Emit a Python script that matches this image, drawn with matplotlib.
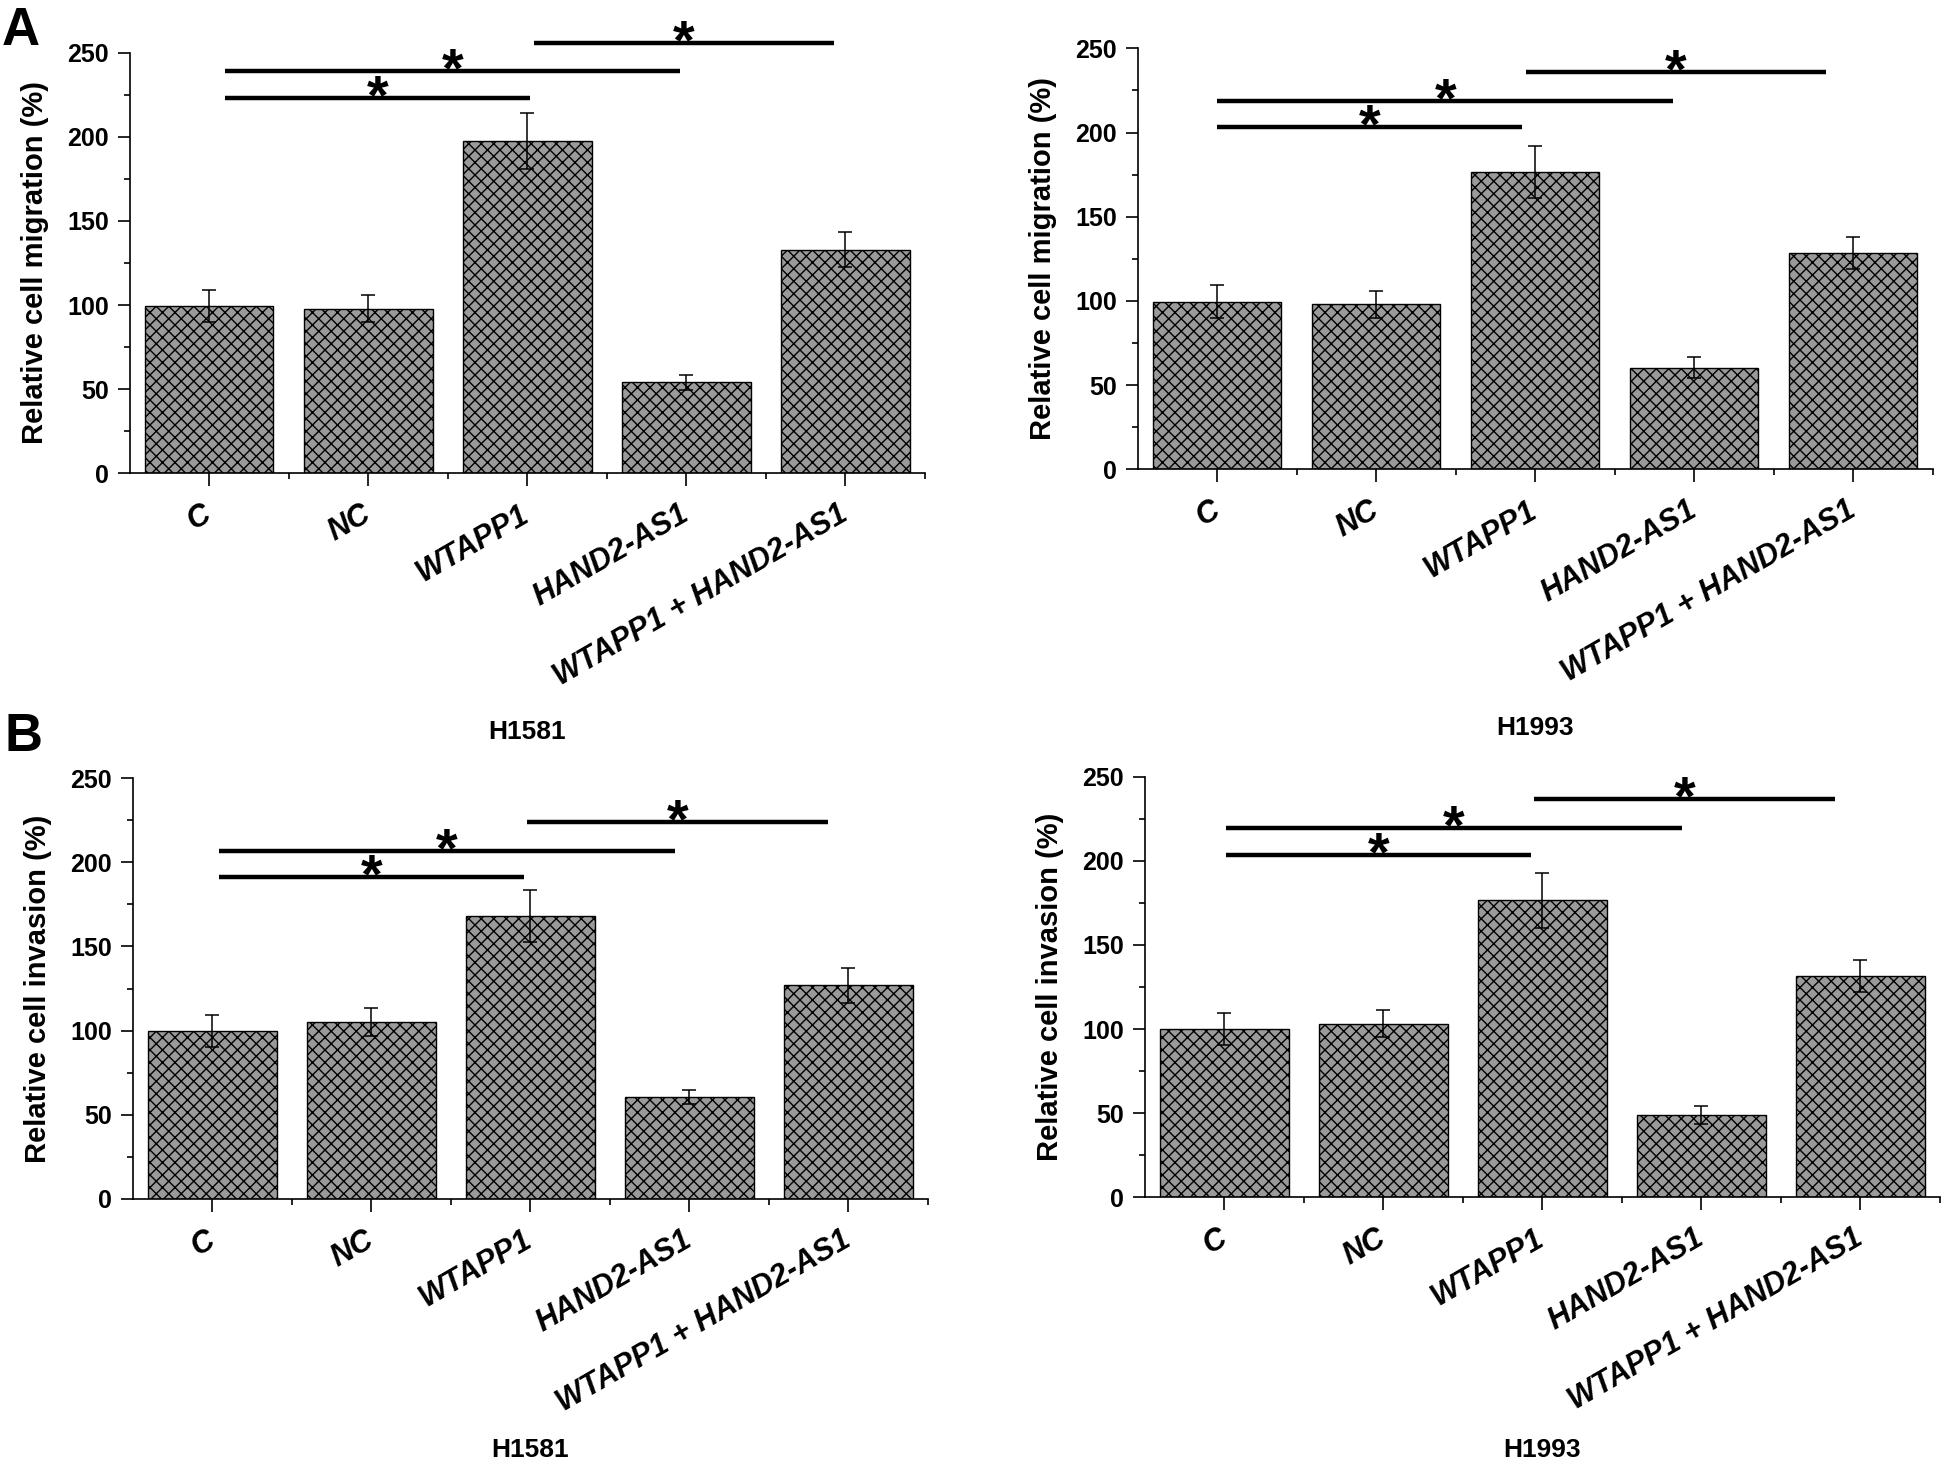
import numpy as np
import matplotlib
matplotlib.use("Agg")
import matplotlib.pyplot as plt
from matplotlib.ticker import MultipleLocator

# dpi 75 so the 'xx' hatch lands close to the reference grid pitch
DPI = 75
S = 100.0 / DPI  # sizes below were worked out for dpi 100

plt.rcParams['font.family'] = ['Liberation Sans', 'DejaVu Sans']
plt.rcParams['hatch.linewidth'] = 1.0 * S
plt.rcParams['hatch.color'] = 'black'

# data
categories = ['C', 'NC', 'WTAPP1', 'HAND2-AS1', 'WTAPP1 + HAND2-AS1']

mig_h1581 = [99.6, 97.7, 197.3, 54.1, 133.0]
mig_h1581_err = [9.5, 8.0, 16.6, 4.3, 10.5]
mig_h1993 = [99.6, 98.0, 176.6, 60.4, 128.7]
mig_h1993_err = [9.9, 7.9, 15.6, 6.1, 9.5]
inv_h1581 = [100.0, 105.1, 168.2, 60.8, 126.9]
inv_h1581_err = [9.5, 8.1, 15.5, 4.1, 10.5]
inv_h1993 = [99.8, 103.2, 176.5, 48.9, 131.3]
inv_h1993_err = [9.5, 7.9, 16.5, 5.4, 9.5]

# significance bars: (start, end, height)
sig_mig_h1581 = [(1.10, 3.02, 223), (1.10, 3.96, 239), (3.04, 4.93, 256)]
sig_mig_h1993 = [(1.00, 2.92, 203), (1.00, 3.87, 219), (2.94, 4.83, 236)]
sig_inv_h1581 = [(1.04, 2.96, 191), (1.04, 3.91, 206.5), (2.98, 4.87, 224)]
sig_inv_h1993 = [(1.01, 2.93, 203.4), (1.01, 3.88, 219.3), (2.95, 4.84, 236.7)]

W, H = 1946, 1470
fig = plt.figure(figsize=(W / DPI, H / DPI), dpi=DPI)


def panel(l, r, t, b, vals, errs, sigs, ylab, cell, cell_y):
    ax = fig.add_axes([l / W, 1 - b / H, (r - l) / W, (b - t) / H])
    x = np.arange(1, len(categories) + 1)
    ax.bar(x, vals, width=0.81, color='#9a9a9a', edgecolor='black',
           linewidth=1.0 * S, hatch='xx', zorder=2)
    ax.errorbar(x, vals, yerr=errs, fmt='none', ecolor='black',
                elinewidth=1.1 * S, capsize=5 * S, capthick=1.1 * S, zorder=3)
    ax.set_xlim(0.5, 5.5)
    ax.set_ylim(0, 250)
    ax.spines['top'].set_visible(False)
    ax.spines['right'].set_visible(False)
    ax.spines['left'].set_linewidth(1.2 * S)
    ax.spines['bottom'].set_linewidth(1.2 * S)
    ax.yaxis.set_major_locator(MultipleLocator(50))
    ax.yaxis.set_minor_locator(MultipleLocator(25))
    ax.set_xticks(x)
    ax.set_xticks(list(x + 0.5), minor=True)
    ax.set_xticklabels(categories, rotation=30, ha='right', va='center',
                       rotation_mode='anchor', fontsize=22 * S,
                       fontweight='bold', style='italic')
    ax.tick_params(axis='x', which='major', length=9 * S, width=1.2 * S,
                   pad=19 * S)
    ax.tick_params(axis='x', which='minor', length=4.5 * S, width=1.2 * S)
    ax.tick_params(axis='y', which='major', length=9 * S, width=1.2 * S,
                   pad=6 * S, labelsize=18 * S)
    ax.tick_params(axis='y', which='minor', length=4.5 * S, width=1.2 * S)
    for lab in ax.get_yticklabels():
        lab.set_fontweight('bold')
    ax.set_ylabel(ylab, fontsize=21 * S, fontweight='bold', labelpad=13 * S)
    for x0, x1, y in sigs:
        ax.plot([x0, x1], [y, y], color='black', lw=3.2 * S,
                solid_capstyle='butt', clip_on=False, zorder=4)
        ax.annotate('*', ((x0 + x1) / 2, y), xytext=(0, -11 * S),
                    textcoords='offset points', ha='center', va='baseline',
                    fontsize=40 * S, fontweight='bold', annotation_clip=False)
    fig.text((l + r) / 2 / W, 1 - cell_y / H, cell, ha='center',
             va='center', fontsize=19 * S, fontweight='bold')
    return ax


panel(129.5, 925, 52.7, 473.3, mig_h1581, mig_h1581_err, sig_mig_h1581,
      'Relative cell migration (%)', 'H1581', 732)
panel(1137.6, 1932.6, 48.3, 469.3, mig_h1993, mig_h1993_err, sig_mig_h1993,
      'Relative cell migration (%)', 'H1993', 728)
panel(132.6, 928, 778, 1199, inv_h1581, inv_h1581_err, sig_inv_h1581,
      'Relative cell invasion (%)', 'H1581', 1450)
panel(1144.8, 1940, 776.7, 1197.3, inv_h1993, inv_h1993_err, sig_inv_h1993,
      'Relative cell invasion (%)', 'H1993', 1450)

fig.text(2 / W, 1 - 45 / H, 'A', fontsize=38 * S, fontweight='bold',
         ha='left', va='baseline')
fig.text(4 / W, 1 - 751 / H, 'B', fontsize=38 * S, fontweight='bold',
         ha='left', va='baseline')

fig.savefig('out.png', dpi=DPI)
